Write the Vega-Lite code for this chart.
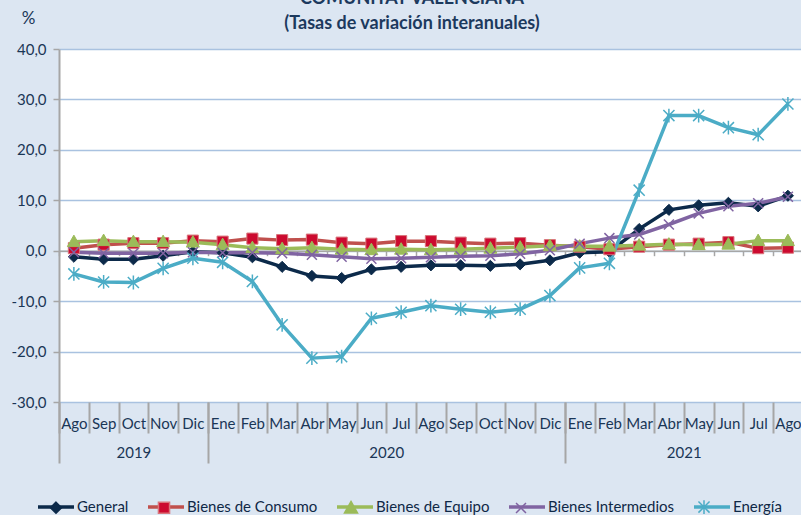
{
  "$schema": "https://vega.github.io/schema/vega-lite/v6.json",
  "width": 742,
  "height": 353,
  "autosize": {"type": "none"},
  "padding": {"left": 59, "top": 49, "right": 0, "bottom": 113},
  "background": "#dce6f2",
  "config": {
    "font": "Lato",
    "view": {"fill": "white", "stroke": null}
  },
  "title": {
    "text": ["COMUNITAT VALENCIANA", "(Tasas de variación interanuales)"],
    "fontSize": 18,
    "fontWeight": "bold",
    "color": "#1c3a5e",
    "anchor": "middle",
    "frame": "group",
    "dx": -18,
    "dy": 40,
    "offset": 16,
    "lineHeight": 25
  },
  "data": {
    "values": [
      {"s": "General", "i": 0, "v": -1.2}, {"s": "General", "i": 1, "v": -1.7}, {"s": "General", "i": 2, "v": -1.7}, {"s": "General", "i": 3, "v": -1.0}, {"s": "General", "i": 4, "v": -0.2},
      {"s": "General", "i": 5, "v": -0.4}, {"s": "General", "i": 6, "v": -1.3}, {"s": "General", "i": 7, "v": -3.2}, {"s": "General", "i": 8, "v": -5.0}, {"s": "General", "i": 9, "v": -5.4},
      {"s": "General", "i": 10, "v": -3.7}, {"s": "General", "i": 11, "v": -3.2}, {"s": "General", "i": 12, "v": -2.9}, {"s": "General", "i": 13, "v": -2.9}, {"s": "General", "i": 14, "v": -3.0},
      {"s": "General", "i": 15, "v": -2.7}, {"s": "General", "i": 16, "v": -1.9}, {"s": "General", "i": 17, "v": -0.4}, {"s": "General", "i": 18, "v": -0.2}, {"s": "General", "i": 19, "v": 4.3},
      {"s": "General", "i": 20, "v": 8.1}, {"s": "General", "i": 21, "v": 9.0}, {"s": "General", "i": 22, "v": 9.5}, {"s": "General", "i": 23, "v": 8.8}, {"s": "General", "i": 24, "v": 10.9},

      {"s": "Bienes de Consumo", "i": 0, "v": 0.5}, {"s": "Bienes de Consumo", "i": 1, "v": 1.2}, {"s": "Bienes de Consumo", "i": 2, "v": 1.5}, {"s": "Bienes de Consumo", "i": 3, "v": 1.5}, {"s": "Bienes de Consumo", "i": 4, "v": 2.0},
      {"s": "Bienes de Consumo", "i": 5, "v": 1.8}, {"s": "Bienes de Consumo", "i": 6, "v": 2.4}, {"s": "Bienes de Consumo", "i": 7, "v": 2.1}, {"s": "Bienes de Consumo", "i": 8, "v": 2.2}, {"s": "Bienes de Consumo", "i": 9, "v": 1.6},
      {"s": "Bienes de Consumo", "i": 10, "v": 1.4}, {"s": "Bienes de Consumo", "i": 11, "v": 1.9}, {"s": "Bienes de Consumo", "i": 12, "v": 1.9}, {"s": "Bienes de Consumo", "i": 13, "v": 1.6}, {"s": "Bienes de Consumo", "i": 14, "v": 1.4},
      {"s": "Bienes de Consumo", "i": 15, "v": 1.5}, {"s": "Bienes de Consumo", "i": 16, "v": 1.1}, {"s": "Bienes de Consumo", "i": 17, "v": 0.8}, {"s": "Bienes de Consumo", "i": 18, "v": 0.3}, {"s": "Bienes de Consumo", "i": 19, "v": 0.8},
      {"s": "Bienes de Consumo", "i": 20, "v": 1.2}, {"s": "Bienes de Consumo", "i": 21, "v": 1.4}, {"s": "Bienes de Consumo", "i": 22, "v": 1.7}, {"s": "Bienes de Consumo", "i": 23, "v": 0.5}, {"s": "Bienes de Consumo", "i": 24, "v": 0.6},

      {"s": "Bienes de Equipo", "i": 0, "v": 1.8}, {"s": "Bienes de Equipo", "i": 1, "v": 2.0}, {"s": "Bienes de Equipo", "i": 2, "v": 1.8}, {"s": "Bienes de Equipo", "i": 3, "v": 1.8}, {"s": "Bienes de Equipo", "i": 4, "v": 1.7},
      {"s": "Bienes de Equipo", "i": 5, "v": 1.2}, {"s": "Bienes de Equipo", "i": 6, "v": 0.6}, {"s": "Bienes de Equipo", "i": 7, "v": 0.4}, {"s": "Bienes de Equipo", "i": 8, "v": 0.6}, {"s": "Bienes de Equipo", "i": 9, "v": 0.3},
      {"s": "Bienes de Equipo", "i": 10, "v": 0.2}, {"s": "Bienes de Equipo", "i": 11, "v": 0.3}, {"s": "Bienes de Equipo", "i": 12, "v": 0.2}, {"s": "Bienes de Equipo", "i": 13, "v": 0.3}, {"s": "Bienes de Equipo", "i": 14, "v": 0.5},
      {"s": "Bienes de Equipo", "i": 15, "v": 0.7}, {"s": "Bienes de Equipo", "i": 16, "v": 1.0}, {"s": "Bienes de Equipo", "i": 17, "v": 0.9}, {"s": "Bienes de Equipo", "i": 18, "v": 0.9}, {"s": "Bienes de Equipo", "i": 19, "v": 1.1},
      {"s": "Bienes de Equipo", "i": 20, "v": 1.3}, {"s": "Bienes de Equipo", "i": 21, "v": 1.2}, {"s": "Bienes de Equipo", "i": 22, "v": 1.3}, {"s": "Bienes de Equipo", "i": 23, "v": 2.0}, {"s": "Bienes de Equipo", "i": 24, "v": 2.0},

      {"s": "Bienes Intermedios", "i": 0, "v": -0.3}, {"s": "Bienes Intermedios", "i": 1, "v": -0.5}, {"s": "Bienes Intermedios", "i": 2, "v": -0.5}, {"s": "Bienes Intermedios", "i": 3, "v": -0.5}, {"s": "Bienes Intermedios", "i": 4, "v": -0.3},
      {"s": "Bienes Intermedios", "i": 5, "v": -0.4}, {"s": "Bienes Intermedios", "i": 6, "v": -0.4}, {"s": "Bienes Intermedios", "i": 7, "v": -0.5}, {"s": "Bienes Intermedios", "i": 8, "v": -0.8}, {"s": "Bienes Intermedios", "i": 9, "v": -1.2},
      {"s": "Bienes Intermedios", "i": 10, "v": -1.6}, {"s": "Bienes Intermedios", "i": 11, "v": -1.5}, {"s": "Bienes Intermedios", "i": 12, "v": -1.3}, {"s": "Bienes Intermedios", "i": 13, "v": -1.1}, {"s": "Bienes Intermedios", "i": 14, "v": -1.0},
      {"s": "Bienes Intermedios", "i": 15, "v": -0.6}, {"s": "Bienes Intermedios", "i": 16, "v": 0.1}, {"s": "Bienes Intermedios", "i": 17, "v": 1.4}, {"s": "Bienes Intermedios", "i": 18, "v": 2.5}, {"s": "Bienes Intermedios", "i": 19, "v": 3.2},
      {"s": "Bienes Intermedios", "i": 20, "v": 5.2}, {"s": "Bienes Intermedios", "i": 21, "v": 7.4}, {"s": "Bienes Intermedios", "i": 22, "v": 8.8}, {"s": "Bienes Intermedios", "i": 23, "v": 9.4}, {"s": "Bienes Intermedios", "i": 24, "v": 10.7},

      {"s": "Energía", "i": 0, "v": -4.6}, {"s": "Energía", "i": 1, "v": -6.2}, {"s": "Energía", "i": 2, "v": -6.3}, {"s": "Energía", "i": 3, "v": -3.5}, {"s": "Energía", "i": 4, "v": -1.5},
      {"s": "Energía", "i": 5, "v": -2.3}, {"s": "Energía", "i": 6, "v": -6.1}, {"s": "Energía", "i": 7, "v": -14.7}, {"s": "Energía", "i": 8, "v": -21.3}, {"s": "Energía", "i": 9, "v": -21.0},
      {"s": "Energía", "i": 10, "v": -13.4}, {"s": "Energía", "i": 11, "v": -12.2}, {"s": "Energía", "i": 12, "v": -10.9}, {"s": "Energía", "i": 13, "v": -11.6}, {"s": "Energía", "i": 14, "v": -12.2},
      {"s": "Energía", "i": 15, "v": -11.6}, {"s": "Energía", "i": 16, "v": -8.9}, {"s": "Energía", "i": 17, "v": -3.4}, {"s": "Energía", "i": 18, "v": -2.5}, {"s": "Energía", "i": 19, "v": 12.0},
      {"s": "Energía", "i": 20, "v": 26.8}, {"s": "Energía", "i": 21, "v": 26.8}, {"s": "Energía", "i": 22, "v": 24.4}, {"s": "Energía", "i": 23, "v": 23.0}, {"s": "Energía", "i": 24, "v": 29.1}
    ]
  },
  "resolve": {"axis": {"x": "independent"}},
  "layer": [
    {
      "mark": {"type": "line", "strokeWidth": 3.5, "strokeJoin": "round"},
      "encoding": {
        "x": {
          "field": "i", "type": "quantitative",
          "scale": {"domain": [-0.5, 24.44], "nice": false, "zero": false},
          "axis": {
            "orient": "bottom", "offset": -151.3, "title": null,
            "values": [-0.5, 0.5, 1.5, 2.5, 3.5, 4.5, 5.5, 6.5, 7.5, 8.5, 9.5, 10.5, 11.5, 12.5, 13.5, 14.5, 15.5, 16.5, 17.5, 18.5, 19.5, 20.5, 21.5, 22.5, 23.5],
            "labels": false, "grid": false, "ticks": true, "tickSize": 5,
            "tickColor": "#a6a6a6", "tickWidth": 1.5,
            "domain": true, "domainColor": "#a6a6a6", "domainWidth": 1.5
          }
        },
        "y": {
          "field": "v", "type": "quantitative",
          "scale": {"domain": [-30, 40], "nice": false, "zero": false},
          "axis": {
            "values": [-30, -20, -10, 0, 10, 20, 30, 40],
            "labelExpr": "replace((datum.value < 0 ? '-' : '') + format(abs(datum.value), '.1f'), '.', ',')",
            "labelFontSize": 15, "labelColor": "#1a3656", "labelPadding": 7,
            "tickSize": 6, "tickColor": "#a6a6a6", "tickWidth": 1.5,
            "domain": true, "domainColor": "#a6a6a6", "domainWidth": 2,
            "grid": true, "gridColor": "#a9c2e0", "gridWidth": 1.5,
            "title": "%", "titleAngle": 0, "titleX": -31, "titleY": -31,
            "titleAlign": "center", "titleBaseline": "middle",
            "titleFontSize": 17, "titleFontWeight": "normal", "titleColor": "#1a3656"
          }
        },
        "color": {
          "field": "s", "type": "nominal",
          "scale": {
            "domain": ["General", "Bienes de Consumo", "Bienes de Equipo", "Bienes Intermedios", "Energía", "-"],
            "range": ["#0c2a4a", "#c0504d", "#9bbb59", "#8064a2", "#4bacc6", "#ffffff"]
          },
          "legend": {
            "values": ["General", "Bienes de Consumo", "Bienes de Equipo", "Bienes Intermedios", "Energía"],
            "orient": "none", "legendX": -23, "legendY": 438,
            "direction": "horizontal", "columns": 5, "title": null,
            "symbolType": "stroke", "symbolSize": 1296, "symbolStrokeWidth": 3.5,
            "labelFontSize": 15, "labelColor": "#0f2846", "labelOffset": 1,
            "columnPadding": 12
          }
        }
      }
    },
    {
      "transform": [{"filter": "indexof(['General','Bienes de Consumo','Bienes de Equipo'], datum.s) >= 0"}],
      "mark": {"type": "point", "filled": true, "opacity": 1, "size": 1467, "strokeWidth": 1},
      "encoding": {
        "x": {
          "field": "i", "type": "quantitative",
          "scale": {"domain": [-0.5, 24.44], "nice": false, "zero": false},
          "axis": {
            "orient": "bottom", "offset": 0, "title": null,
            "values": [-0.5, 0.5, 1.5, 2.5, 3.5, 4.5, 5.5, 6.5, 7.5, 8.5, 9.5, 10.5, 11.5, 12.5, 13.5, 14.5, 15.5, 16.5, 17.5, 18.5, 19.5, 20.5, 21.5, 22.5, 23.5],
            "labelExpr": "['Ago','Sep','Oct','Nov','Dic','Ene','Feb','Mar','Abr','May','Jun','Jul','Ago','Sep','Oct','Nov','Dic','Ene','Feb','Mar','Abr','May','Jun','Jul','Ago'][round(datum.value + 0.5)]",
            "labelOffset": 14.875, "labelBaseline": "middle", "labelPadding": -10,
            "labelFlush": false, "labelOverlap": false, "labelBound": false,
            "labelFontSize": 15, "labelColor": "#1a3656",
            "ticks": true, "tickSize": 31, "tickColor": "#a6a6a6", "tickWidth": 2,
            "domain": false, "grid": false
          }
        },
        "y": {"field": "v", "type": "quantitative"},
        "fill": {
          "field": "s", "type": "nominal",
          "scale": {
            "domain": ["General", "Bienes de Consumo", "Bienes de Equipo", "Bienes Intermedios", "Energía"],
            "range": ["#0c2a4a", "#cc0a2f", "#9bbb59", "#8064a2", "#4bacc6"]
          },
          "legend": {
            "orient": "none", "legendX": -23, "legendY": 438,
            "direction": "horizontal", "columns": 5, "title": null,
            "symbolSize": 1467, "symbolStrokeWidth": 1.5, "symbolOpacity": 1,
            "labelFontSize": 15, "labelColor": "#0f2846", "labelOffset": 1, "labelOpacity": 0,
            "columnPadding": 12
          }
        },
        "stroke": {
          "field": "s", "type": "nominal",
          "scale": {
            "domain": ["General", "Bienes de Consumo", "Bienes de Equipo", "Bienes Intermedios", "Energía"],
            "range": ["#0c2a4a", "#d9747a", "#9bbb59", "#8064a2", "#4bacc6"]
          }
        },
        "shape": {
          "field": "s", "type": "nominal",
          "scale": {
            "domain": ["General", "Bienes de Consumo", "Bienes de Equipo", "Bienes Intermedios", "Energía"],
            "range": [
              "M-1,0M1,0M0,-0.29L0.29,0L0,0.29L-0.29,0Z",
              "M-1,0M1,0M-0.29,-0.29H0.29V0.29H-0.29Z",
              "M-1,0M1,0M0,-0.34L0.34,0.26H-0.34Z",
              "M-1,0M1,0M-0.26,-0.26L0.26,0.26M0.26,-0.26L-0.26,0.26",
              "M-1,0M1,0M-0.29,-0.29L0.29,0.29M0.29,-0.29L-0.29,0.29M0,-0.36V0.36"
            ]
          }
        }
      }
    },
    {
      "transform": [{"filter": "indexof(['Bienes Intermedios','Energía'], datum.s) >= 0"}],
      "mark": {"type": "point", "filled": false, "opacity": 1, "size": 1467, "strokeWidth": 1.5},
      "encoding": {
        "x": {
          "field": "i", "type": "quantitative",
          "scale": {"domain": [-0.5, 24.44], "nice": false, "zero": false},
          "axis": {
            "orient": "bottom", "offset": 0, "title": null,
            "values": [-0.5, 4.5, 16.5],
            "labelExpr": "datum.value < 0 ? '2019' : datum.value < 10 ? '2020' : '2021'",
            "labelOffset": {"condition": [{"test": "datum.value < 0", "value": 74.4}, {"test": "datum.value < 10", "value": 178.5}], "value": 119},
            "labelBaseline": "middle", "labelPadding": -11,
            "labelFlush": false, "labelOverlap": false, "labelBound": false,
            "labelFontSize": 15, "labelColor": "#1a3656",
            "ticks": true, "tickSize": 61, "tickColor": "#a6a6a6", "tickWidth": 2,
            "domain": false, "grid": false
          }
        },
        "y": {"field": "v", "type": "quantitative"},
        "stroke": {"field": "s", "type": "nominal"},
        "shape": {"field": "s", "type": "nominal"}
      }
    }
  ]
}
